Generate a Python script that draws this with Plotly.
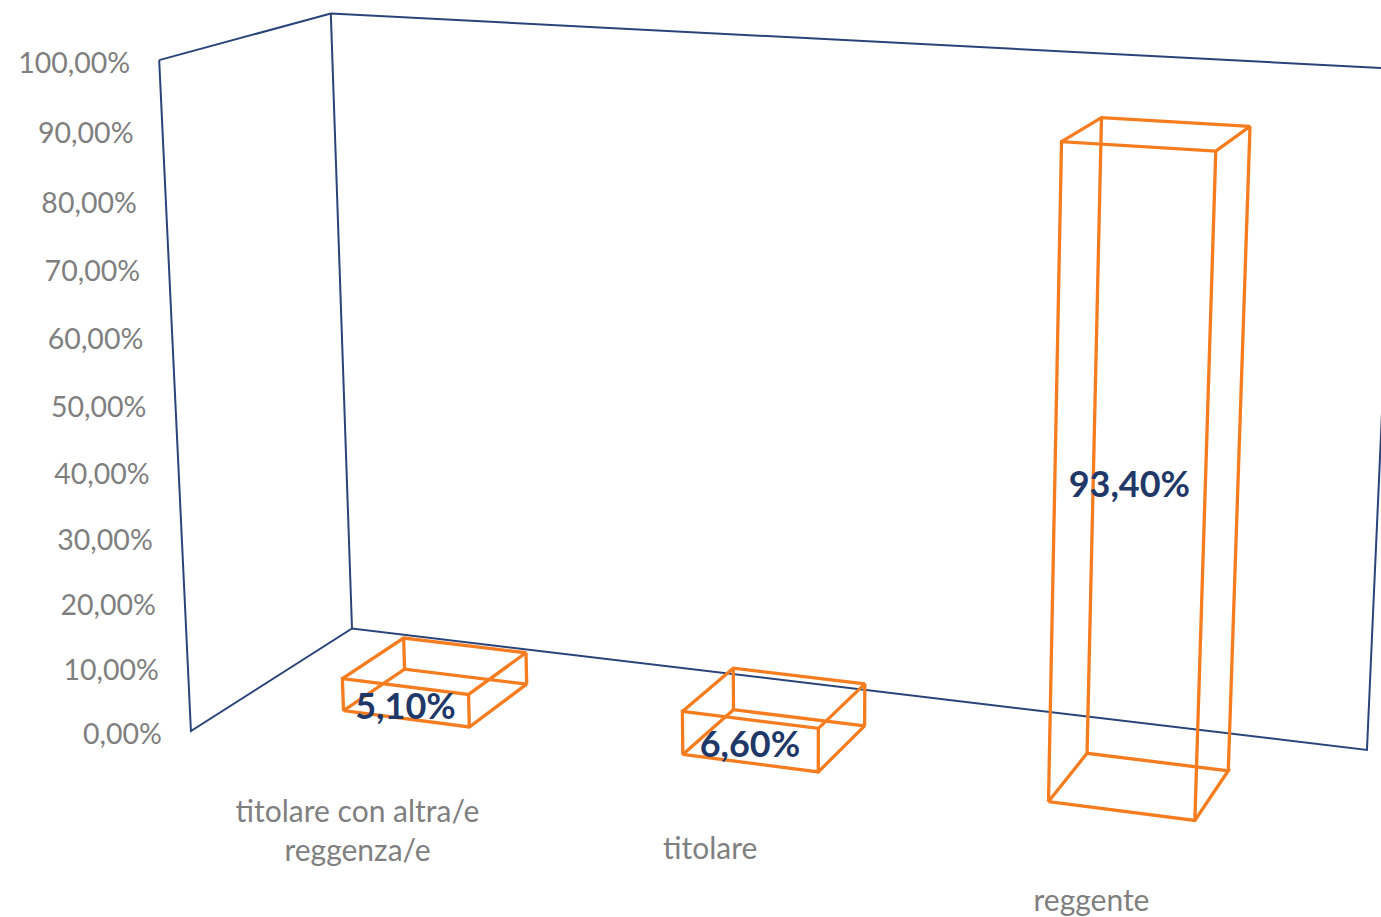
import numpy as np
import plotly.graph_objects as go

# ---- data ----
categories = ["titolare con altra/e<br>reggenza/e", "titolare", "reggente"]
values = [5.1, 6.6, 93.4]
value_labels = ["5,10%", "6,60%", "93,40%"]
tick_values = [0, 10, 20, 30, 40, 50, 60, 70, 80, 90, 100]
tick_labels = ["0,00%", "10,00%", "20,00%", "30,00%", "40,00%", "50,00%",
               "60,00%", "70,00%", "80,00%", "90,00%", "100,00%"]

# ---- 3-D chart box: perspective camera expressed as vanishing points ----
W, H = 1381, 917
ORIGIN = np.array([352.0, 628.5, 1.0])
VP_CAT = np.array([-8702.0, -455.0, 1.0]) * -0.1008
VP_VAL = np.array([797.0, 13540.0, 1.0]) * (-0.04547 / 100)
VP_DEPTH = np.array([2053.0, -455.0, 1.0]) * -0.0865
BAR_WIDTH = 0.1265
DEPTH_BACK, DEPTH_FRONT = 0.297, 0.695
NAVY, ORANGE, GREY = "#2a4479", "#f57c1f", "#7f7f7f"
FONT = "Lato"
LABEL_FONT = "Lato"
CAT_SHIFT = [81, 51, 52]
LABEL_SHIFT = [7, 6, 1]


def project(u, v, w):
    p = ORIGIN + u * VP_CAT + v * VP_VAL + w * VP_DEPTH
    return p[0] / p[2], p[1] / p[2]


def polyline(points):
    xy = [project(*p) if p is not None else (None, None) for p in points]
    return [a for a, _ in xy], [b for _, b in xy]


fig = go.Figure()

# walls and floor outline
wall = [(0, 100, 1), (0, 100, 0), (1, 100, 0), (1, 0, 0), (0, 0, 0), (0, 0, 1), (0, 100, 1),
        None, (0, 100, 0), (0, 0, 0)]
wx, wy = polyline(wall)
fig.add_trace(go.Scatter(x=wx, y=wy, mode="lines", line=dict(color=NAVY, width=2),
                         hoverinfo="skip", showlegend=False))

# wireframe bars
centers = [(i + 0.5) / len(categories) for i in range(len(categories))]
for c, val in zip(centers, values):
    u0, u1 = c - BAR_WIDTH / 2, c + BAR_WIDTH / 2
    d0, d1 = DEPTH_BACK, DEPTH_FRONT
    edges = [(u0, 0, d1), (u1, 0, d1), (u1, 0, d0), (u0, 0, d0), (u0, 0, d1),
             (u0, val, d1), (u1, val, d1), (u1, val, d0), (u0, val, d0), (u0, val, d1), None,
             (u1, 0, d1), (u1, val, d1), None,
             (u1, 0, d0), (u1, val, d0), None,
             (u0, 0, d0), (u0, val, d0)]
    bx, by = polyline(edges)
    fig.add_trace(go.Scatter(x=bx, y=by, mode="lines", line=dict(color=ORANGE, width=3.3),
                             hoverinfo="skip", showlegend=False))

# value axis labels
tick_pts = [project(0, v, 1) for v in tick_values]
fig.add_trace(go.Scatter(x=[p[0] - 29 for p in tick_pts], y=[p[1] + 5.5 for p in tick_pts],
                         mode="text", text=tick_labels, textposition="middle left",
                         textfont=dict(family=FONT, size=28.5, color=GREY),
                         hoverinfo="skip", showlegend=False))

# category labels
cat_pts = [project(c, 0, 1) for c in centers]
fig.add_trace(go.Scatter(x=[p[0] for p in cat_pts],
                         y=[p[1] + s for p, s in zip(cat_pts, CAT_SHIFT)],
                         mode="text", text=categories, textposition="middle center",
                         textfont=dict(family=FONT, size=30, color=GREY),
                         hoverinfo="skip", showlegend=False))

# value labels, centred on the front face of each bar
lab_pts = [project(c, v / 2, DEPTH_FRONT) for c, v in zip(centers, values)]
fig.add_trace(go.Scatter(x=[p[0] for p in lab_pts],
                         y=[p[1] + s for p, s in zip(lab_pts, LABEL_SHIFT)],
                         mode="text", text=[f"<b>{t}</b>" for t in value_labels],
                         textposition="middle center",
                         textfont=dict(family=LABEL_FONT, size=36, color="#1f3868"),
                         hoverinfo="skip", showlegend=False))

fig.update_layout(width=W, height=H, margin=dict(l=0, r=0, t=0, b=0),
                  paper_bgcolor="white", plot_bgcolor="white", showlegend=False)
fig.update_xaxes(range=[0, W], visible=False, fixedrange=True)
fig.update_yaxes(range=[H, 0], visible=False, fixedrange=True)
fig.write_html("out.html", config={"displayModeBar": False},
               post_script="document.body.style.margin='0';document.body.style.overflow='hidden';")
